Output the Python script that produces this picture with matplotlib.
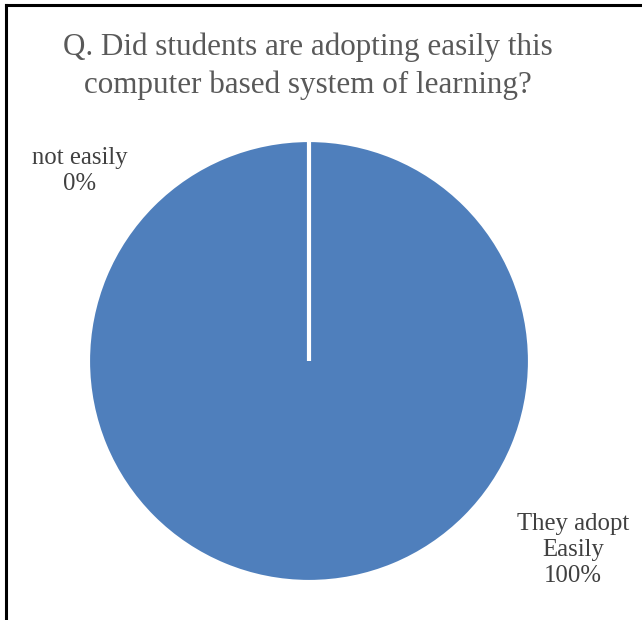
import matplotlib
matplotlib.use("Agg")
import matplotlib.pyplot as plt
from matplotlib.lines import Line2D

title = "Q. Did students are adopting easily this\ncomputer based system of learning?"
categories = ["They adopt\nEasily", "not easily"]
values = [100, 0]
pct_labels = ["100%", "0%"]

FAM = "Liberation Serif"

W, H = 642, 620
fig = plt.figure(figsize=(W / 100, H / 100), dpi=100)

cx, cy, r = 309, 361, 221
ax = fig.add_axes([(cx - r) / W, (H - cy - r) / H, 2 * r / W, 2 * r / H])
wedges, _ = ax.pie(values, colors=["#4F7FBC", "#4F7FBC"], startangle=90,
                   counterclock=False, radius=1,
                   wedgeprops=dict(edgecolor="white", linewidth=3))
ax.set_xlim(-1, 1)
ax.set_ylim(-1, 1)
ax.set_aspect("equal")
ax.axis("off")

fig.text(308 / W, 1 - 66 / H, title, ha="center", va="center", fontsize=22.4,
         color="#595959", linespacing=1.38, family=FAM)

fig.text(80 / W, 1 - 171 / H, f"{categories[1]}\n{pct_labels[1]}", ha="center",
         va="center", fontsize=17.8, color="#404040", linespacing=1.26, family=FAM)
fig.text(573 / W, 1 - 550 / H, f"{categories[0]}\n{pct_labels[0]}", ha="center",
         va="center", fontsize=17.8, color="#404040", linespacing=1.26, family=FAM)

fig.add_artist(Line2D([6 / W, 6 / W], [0, 1 - 5 / H], transform=fig.transFigure,
                      color="black", linewidth=2.2))
fig.add_artist(Line2D([6 / W, 1], [1 - 5 / H, 1 - 5 / H], transform=fig.transFigure,
                      color="black", linewidth=2.2))

fig.savefig("out.png", dpi=100, facecolor="white")
